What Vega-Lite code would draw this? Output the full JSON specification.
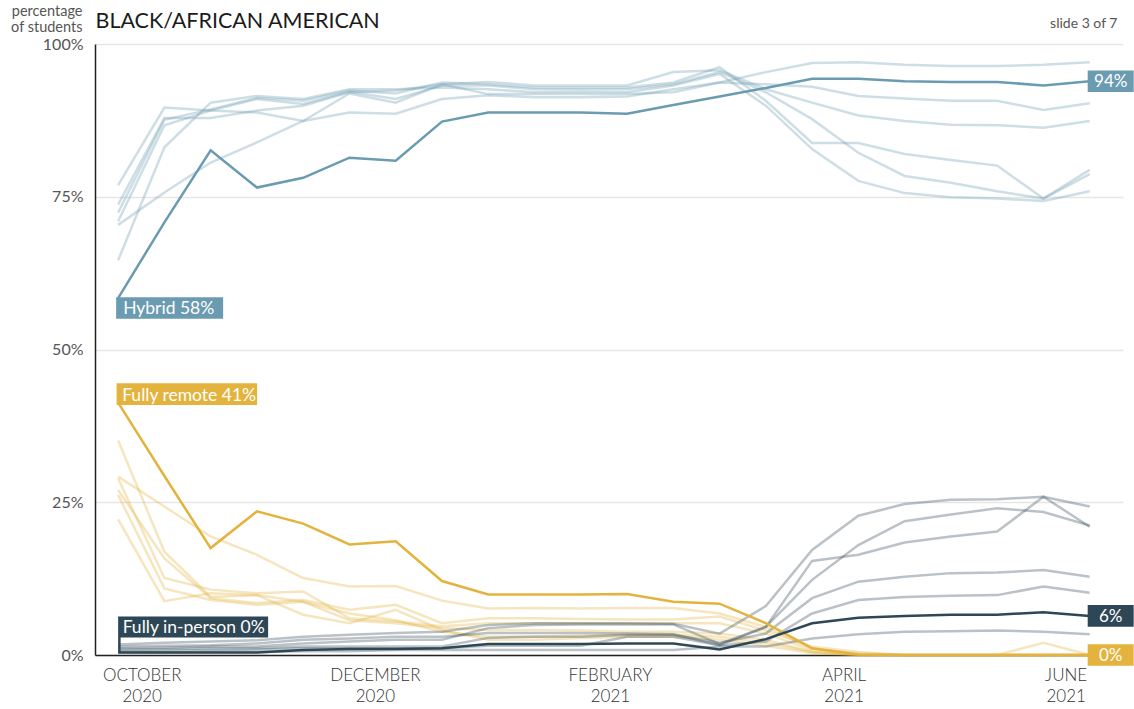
{
  "$schema": "https://vega.github.io/schema/vega-lite/v6.json",
  "width": 1028,
  "height": 611,
  "autosize": {"type": "none"},
  "padding": {"left": 95, "top": 44, "right": 11, "bottom": 54},
  "background": "white",
  "config": {"font": "Lato", "view": {"stroke": null}},
  "datasets": {
    "rates": [
      {"group":"Black/African American","mode":"Hybrid","wave":0,"pct":0.584},{"group":"Black/African American","mode":"Hybrid","wave":1,"pct":0.708},{"group":"Black/African American","mode":"Hybrid","wave":2,"pct":0.826},{"group":"Black/African American","mode":"Hybrid","wave":3,"pct":0.765},{"group":"Black/African American","mode":"Hybrid","wave":4,"pct":0.781},{"group":"Black/African American","mode":"Hybrid","wave":5,"pct":0.814},{"group":"Black/African American","mode":"Hybrid","wave":6,"pct":0.809},{"group":"Black/African American","mode":"Hybrid","wave":7,"pct":0.873},{"group":"Black/African American","mode":"Hybrid","wave":8,"pct":0.888},{"group":"Black/African American","mode":"Hybrid","wave":9,"pct":0.888},{"group":"Black/African American","mode":"Hybrid","wave":10,"pct":0.888},{"group":"Black/African American","mode":"Hybrid","wave":11,"pct":0.886},{"group":"Black/African American","mode":"Hybrid","wave":12,"pct":0.900},{"group":"Black/African American","mode":"Hybrid","wave":13,"pct":0.914},{"group":"Black/African American","mode":"Hybrid","wave":14,"pct":0.928},{"group":"Black/African American","mode":"Hybrid","wave":15,"pct":0.943},{"group":"Black/African American","mode":"Hybrid","wave":16,"pct":0.943},{"group":"Black/African American","mode":"Hybrid","wave":17,"pct":0.939},{"group":"Black/African American","mode":"Hybrid","wave":18,"pct":0.938},{"group":"Black/African American","mode":"Hybrid","wave":19,"pct":0.938},{"group":"Black/African American","mode":"Hybrid","wave":20,"pct":0.932},{"group":"Black/African American","mode":"Hybrid","wave":21,"pct":0.939},
      {"group":"Black/African American","mode":"Fully remote","wave":0,"pct":0.413},{"group":"Black/African American","mode":"Fully remote","wave":1,"pct":0.293},{"group":"Black/African American","mode":"Fully remote","wave":2,"pct":0.175},{"group":"Black/African American","mode":"Fully remote","wave":3,"pct":0.235},{"group":"Black/African American","mode":"Fully remote","wave":4,"pct":0.215},{"group":"Black/African American","mode":"Fully remote","wave":5,"pct":0.181},{"group":"Black/African American","mode":"Fully remote","wave":6,"pct":0.186},{"group":"Black/African American","mode":"Fully remote","wave":7,"pct":0.121},{"group":"Black/African American","mode":"Fully remote","wave":8,"pct":0.099},{"group":"Black/African American","mode":"Fully remote","wave":9,"pct":0.099},{"group":"Black/African American","mode":"Fully remote","wave":10,"pct":0.099},{"group":"Black/African American","mode":"Fully remote","wave":11,"pct":0.100},{"group":"Black/African American","mode":"Fully remote","wave":12,"pct":0.087},{"group":"Black/African American","mode":"Fully remote","wave":13,"pct":0.084},{"group":"Black/African American","mode":"Fully remote","wave":14,"pct":0.052},{"group":"Black/African American","mode":"Fully remote","wave":15,"pct":0.011},{"group":"Black/African American","mode":"Fully remote","wave":16,"pct":0.001},{"group":"Black/African American","mode":"Fully remote","wave":17,"pct":0},{"group":"Black/African American","mode":"Fully remote","wave":18,"pct":0},{"group":"Black/African American","mode":"Fully remote","wave":19,"pct":0},{"group":"Black/African American","mode":"Fully remote","wave":20,"pct":0},{"group":"Black/African American","mode":"Fully remote","wave":21,"pct":0},
      {"group":"Black/African American","mode":"Fully in-person","wave":0,"pct":0.004},{"group":"Black/African American","mode":"Fully in-person","wave":1,"pct":0.004},{"group":"Black/African American","mode":"Fully in-person","wave":2,"pct":0.004},{"group":"Black/African American","mode":"Fully in-person","wave":3,"pct":0.004},{"group":"Black/African American","mode":"Fully in-person","wave":4,"pct":0.008},{"group":"Black/African American","mode":"Fully in-person","wave":5,"pct":0.010},{"group":"Black/African American","mode":"Fully in-person","wave":6,"pct":0.010},{"group":"Black/African American","mode":"Fully in-person","wave":7,"pct":0.011},{"group":"Black/African American","mode":"Fully in-person","wave":8,"pct":0.018},{"group":"Black/African American","mode":"Fully in-person","wave":9,"pct":0.018},{"group":"Black/African American","mode":"Fully in-person","wave":10,"pct":0.018},{"group":"Black/African American","mode":"Fully in-person","wave":11,"pct":0.019},{"group":"Black/African American","mode":"Fully in-person","wave":12,"pct":0.019},{"group":"Black/African American","mode":"Fully in-person","wave":13,"pct":0.009},{"group":"Black/African American","mode":"Fully in-person","wave":14,"pct":0.026},{"group":"Black/African American","mode":"Fully in-person","wave":15,"pct":0.052},{"group":"Black/African American","mode":"Fully in-person","wave":16,"pct":0.061},{"group":"Black/African American","mode":"Fully in-person","wave":17,"pct":0.064},{"group":"Black/African American","mode":"Fully in-person","wave":18,"pct":0.066},{"group":"Black/African American","mode":"Fully in-person","wave":19,"pct":0.066},{"group":"Black/African American","mode":"Fully in-person","wave":20,"pct":0.070},{"group":"Black/African American","mode":"Fully in-person","wave":21,"pct":0.064},

      {"group":"Other 1","mode":"Hybrid","wave":0,"pct":0.769},{"group":"Other 1","mode":"Hybrid","wave":1,"pct":0.896},{"group":"Other 1","mode":"Hybrid","wave":2,"pct":0.891},{"group":"Other 1","mode":"Hybrid","wave":3,"pct":0.888},{"group":"Other 1","mode":"Hybrid","wave":4,"pct":0.874},{"group":"Other 1","mode":"Hybrid","wave":5,"pct":0.888},{"group":"Other 1","mode":"Hybrid","wave":6,"pct":0.886},{"group":"Other 1","mode":"Hybrid","wave":7,"pct":0.910},{"group":"Other 1","mode":"Hybrid","wave":8,"pct":0.916},{"group":"Other 1","mode":"Hybrid","wave":9,"pct":0.913},{"group":"Other 1","mode":"Hybrid","wave":10,"pct":0.913},{"group":"Other 1","mode":"Hybrid","wave":11,"pct":0.914},{"group":"Other 1","mode":"Hybrid","wave":12,"pct":0.926},{"group":"Other 1","mode":"Hybrid","wave":13,"pct":0.937},{"group":"Other 1","mode":"Hybrid","wave":14,"pct":0.934},{"group":"Other 1","mode":"Hybrid","wave":15,"pct":0.930},{"group":"Other 1","mode":"Hybrid","wave":16,"pct":0.915},{"group":"Other 1","mode":"Hybrid","wave":17,"pct":0.911},{"group":"Other 1","mode":"Hybrid","wave":18,"pct":0.907},{"group":"Other 1","mode":"Hybrid","wave":19,"pct":0.907},{"group":"Other 1","mode":"Hybrid","wave":20,"pct":0.892},{"group":"Other 1","mode":"Hybrid","wave":21,"pct":0.903},
      {"group":"Other 2","mode":"Hybrid","wave":0,"pct":0.737},{"group":"Other 2","mode":"Hybrid","wave":1,"pct":0.879},{"group":"Other 2","mode":"Hybrid","wave":2,"pct":0.879},{"group":"Other 2","mode":"Hybrid","wave":3,"pct":0.891},{"group":"Other 2","mode":"Hybrid","wave":4,"pct":0.899},{"group":"Other 2","mode":"Hybrid","wave":5,"pct":0.921},{"group":"Other 2","mode":"Hybrid","wave":6,"pct":0.924},{"group":"Other 2","mode":"Hybrid","wave":7,"pct":0.934},{"group":"Other 2","mode":"Hybrid","wave":8,"pct":0.938},{"group":"Other 2","mode":"Hybrid","wave":9,"pct":0.932},{"group":"Other 2","mode":"Hybrid","wave":10,"pct":0.932},{"group":"Other 2","mode":"Hybrid","wave":11,"pct":0.932},{"group":"Other 2","mode":"Hybrid","wave":12,"pct":0.954},{"group":"Other 2","mode":"Hybrid","wave":13,"pct":0.957},{"group":"Other 2","mode":"Hybrid","wave":14,"pct":0.926},{"group":"Other 2","mode":"Hybrid","wave":15,"pct":0.904},{"group":"Other 2","mode":"Hybrid","wave":16,"pct":0.883},{"group":"Other 2","mode":"Hybrid","wave":17,"pct":0.874},{"group":"Other 2","mode":"Hybrid","wave":18,"pct":0.868},{"group":"Other 2","mode":"Hybrid","wave":19,"pct":0.867},{"group":"Other 2","mode":"Hybrid","wave":20,"pct":0.863},{"group":"Other 2","mode":"Hybrid","wave":21,"pct":0.874},
      {"group":"Other 3","mode":"Hybrid","wave":0,"pct":0.724},{"group":"Other 3","mode":"Hybrid","wave":1,"pct":0.876},{"group":"Other 3","mode":"Hybrid","wave":2,"pct":0.893},{"group":"Other 3","mode":"Hybrid","wave":3,"pct":0.912},{"group":"Other 3","mode":"Hybrid","wave":4,"pct":0.907},{"group":"Other 3","mode":"Hybrid","wave":5,"pct":0.924},{"group":"Other 3","mode":"Hybrid","wave":6,"pct":0.919},{"group":"Other 3","mode":"Hybrid","wave":7,"pct":0.937},{"group":"Other 3","mode":"Hybrid","wave":8,"pct":0.934},{"group":"Other 3","mode":"Hybrid","wave":9,"pct":0.929},{"group":"Other 3","mode":"Hybrid","wave":10,"pct":0.929},{"group":"Other 3","mode":"Hybrid","wave":11,"pct":0.929},{"group":"Other 3","mode":"Hybrid","wave":12,"pct":0.937},{"group":"Other 3","mode":"Hybrid","wave":13,"pct":0.962},{"group":"Other 3","mode":"Hybrid","wave":14,"pct":0.907},{"group":"Other 3","mode":"Hybrid","wave":15,"pct":0.838},{"group":"Other 3","mode":"Hybrid","wave":16,"pct":0.838},{"group":"Other 3","mode":"Hybrid","wave":17,"pct":0.820},{"group":"Other 3","mode":"Hybrid","wave":18,"pct":0.810},{"group":"Other 3","mode":"Hybrid","wave":19,"pct":0.801},{"group":"Other 3","mode":"Hybrid","wave":20,"pct":0.747},{"group":"Other 3","mode":"Hybrid","wave":21,"pct":0.794},
      {"group":"Other 4","mode":"Hybrid","wave":0,"pct":0.710},{"group":"Other 4","mode":"Hybrid","wave":1,"pct":0.867},{"group":"Other 4","mode":"Hybrid","wave":2,"pct":0.891},{"group":"Other 4","mode":"Hybrid","wave":3,"pct":0.910},{"group":"Other 4","mode":"Hybrid","wave":4,"pct":0.902},{"group":"Other 4","mode":"Hybrid","wave":5,"pct":0.922},{"group":"Other 4","mode":"Hybrid","wave":6,"pct":0.910},{"group":"Other 4","mode":"Hybrid","wave":7,"pct":0.932},{"group":"Other 4","mode":"Hybrid","wave":8,"pct":0.932},{"group":"Other 4","mode":"Hybrid","wave":9,"pct":0.926},{"group":"Other 4","mode":"Hybrid","wave":10,"pct":0.926},{"group":"Other 4","mode":"Hybrid","wave":11,"pct":0.926},{"group":"Other 4","mode":"Hybrid","wave":12,"pct":0.934},{"group":"Other 4","mode":"Hybrid","wave":13,"pct":0.954},{"group":"Other 4","mode":"Hybrid","wave":14,"pct":0.921},{"group":"Other 4","mode":"Hybrid","wave":15,"pct":0.877},{"group":"Other 4","mode":"Hybrid","wave":16,"pct":0.822},{"group":"Other 4","mode":"Hybrid","wave":17,"pct":0.784},{"group":"Other 4","mode":"Hybrid","wave":18,"pct":0.773},{"group":"Other 4","mode":"Hybrid","wave":19,"pct":0.759},{"group":"Other 4","mode":"Hybrid","wave":20,"pct":0.747},{"group":"Other 4","mode":"Hybrid","wave":21,"pct":0.787},
      {"group":"Other 5","mode":"Hybrid","wave":0,"pct":0.704},{"group":"Other 5","mode":"Hybrid","wave":1,"pct":0.757},{"group":"Other 5","mode":"Hybrid","wave":2,"pct":0.806},{"group":"Other 5","mode":"Hybrid","wave":3,"pct":0.839},{"group":"Other 5","mode":"Hybrid","wave":4,"pct":0.874},{"group":"Other 5","mode":"Hybrid","wave":5,"pct":0.919},{"group":"Other 5","mode":"Hybrid","wave":6,"pct":0.904},{"group":"Other 5","mode":"Hybrid","wave":7,"pct":0.934},{"group":"Other 5","mode":"Hybrid","wave":8,"pct":0.918},{"group":"Other 5","mode":"Hybrid","wave":9,"pct":0.918},{"group":"Other 5","mode":"Hybrid","wave":10,"pct":0.918},{"group":"Other 5","mode":"Hybrid","wave":11,"pct":0.918},{"group":"Other 5","mode":"Hybrid","wave":12,"pct":0.921},{"group":"Other 5","mode":"Hybrid","wave":13,"pct":0.937},{"group":"Other 5","mode":"Hybrid","wave":14,"pct":0.954},{"group":"Other 5","mode":"Hybrid","wave":15,"pct":0.969},{"group":"Other 5","mode":"Hybrid","wave":16,"pct":0.970},{"group":"Other 5","mode":"Hybrid","wave":17,"pct":0.966},{"group":"Other 5","mode":"Hybrid","wave":18,"pct":0.964},{"group":"Other 5","mode":"Hybrid","wave":19,"pct":0.964},{"group":"Other 5","mode":"Hybrid","wave":20,"pct":0.966},{"group":"Other 5","mode":"Hybrid","wave":21,"pct":0.970},
      {"group":"Other 6","mode":"Hybrid","wave":0,"pct":0.646},{"group":"Other 6","mode":"Hybrid","wave":1,"pct":0.831},{"group":"Other 6","mode":"Hybrid","wave":2,"pct":0.904},{"group":"Other 6","mode":"Hybrid","wave":3,"pct":0.915},{"group":"Other 6","mode":"Hybrid","wave":4,"pct":0.910},{"group":"Other 6","mode":"Hybrid","wave":5,"pct":0.926},{"group":"Other 6","mode":"Hybrid","wave":6,"pct":0.926},{"group":"Other 6","mode":"Hybrid","wave":7,"pct":0.929},{"group":"Other 6","mode":"Hybrid","wave":8,"pct":0.926},{"group":"Other 6","mode":"Hybrid","wave":9,"pct":0.921},{"group":"Other 6","mode":"Hybrid","wave":10,"pct":0.922},{"group":"Other 6","mode":"Hybrid","wave":11,"pct":0.921},{"group":"Other 6","mode":"Hybrid","wave":12,"pct":0.932},{"group":"Other 6","mode":"Hybrid","wave":13,"pct":0.951},{"group":"Other 6","mode":"Hybrid","wave":14,"pct":0.899},{"group":"Other 6","mode":"Hybrid","wave":15,"pct":0.828},{"group":"Other 6","mode":"Hybrid","wave":16,"pct":0.776},{"group":"Other 6","mode":"Hybrid","wave":17,"pct":0.756},{"group":"Other 6","mode":"Hybrid","wave":18,"pct":0.749},{"group":"Other 6","mode":"Hybrid","wave":19,"pct":0.747},{"group":"Other 6","mode":"Hybrid","wave":20,"pct":0.743},{"group":"Other 6","mode":"Hybrid","wave":21,"pct":0.759},

      {"group":"Other 1","mode":"Fully remote","wave":0,"pct":0.351},{"group":"Other 1","mode":"Fully remote","wave":1,"pct":0.169},{"group":"Other 1","mode":"Fully remote","wave":2,"pct":0.095},{"group":"Other 1","mode":"Fully remote","wave":3,"pct":0.098},{"group":"Other 1","mode":"Fully remote","wave":4,"pct":0.087},{"group":"Other 1","mode":"Fully remote","wave":5,"pct":0.068},{"group":"Other 1","mode":"Fully remote","wave":6,"pct":0.057},{"group":"Other 1","mode":"Fully remote","wave":7,"pct":0.038},{"group":"Other 1","mode":"Fully remote","wave":8,"pct":0.030},{"group":"Other 1","mode":"Fully remote","wave":9,"pct":0.030},{"group":"Other 1","mode":"Fully remote","wave":10,"pct":0.032},{"group":"Other 1","mode":"Fully remote","wave":11,"pct":0.033},{"group":"Other 1","mode":"Fully remote","wave":12,"pct":0.033},{"group":"Other 1","mode":"Fully remote","wave":13,"pct":0.030},{"group":"Other 1","mode":"Fully remote","wave":14,"pct":0.020},{"group":"Other 1","mode":"Fully remote","wave":15,"pct":0.005},{"group":"Other 1","mode":"Fully remote","wave":16,"pct":0},{"group":"Other 1","mode":"Fully remote","wave":17,"pct":0},{"group":"Other 1","mode":"Fully remote","wave":18,"pct":0},{"group":"Other 1","mode":"Fully remote","wave":19,"pct":0},{"group":"Other 1","mode":"Fully remote","wave":20,"pct":0},{"group":"Other 1","mode":"Fully remote","wave":21,"pct":0},
      {"group":"Other 2","mode":"Fully remote","wave":0,"pct":0.292},{"group":"Other 2","mode":"Fully remote","wave":1,"pct":0.243},{"group":"Other 2","mode":"Fully remote","wave":2,"pct":0.194},{"group":"Other 2","mode":"Fully remote","wave":3,"pct":0.164},{"group":"Other 2","mode":"Fully remote","wave":4,"pct":0.126},{"group":"Other 2","mode":"Fully remote","wave":5,"pct":0.112},{"group":"Other 2","mode":"Fully remote","wave":6,"pct":0.113},{"group":"Other 2","mode":"Fully remote","wave":7,"pct":0.089},{"group":"Other 2","mode":"Fully remote","wave":8,"pct":0.076},{"group":"Other 2","mode":"Fully remote","wave":9,"pct":0.077},{"group":"Other 2","mode":"Fully remote","wave":10,"pct":0.076},{"group":"Other 2","mode":"Fully remote","wave":11,"pct":0.077},{"group":"Other 2","mode":"Fully remote","wave":12,"pct":0.077},{"group":"Other 2","mode":"Fully remote","wave":13,"pct":0.068},{"group":"Other 2","mode":"Fully remote","wave":14,"pct":0.046},{"group":"Other 2","mode":"Fully remote","wave":15,"pct":0.010},{"group":"Other 2","mode":"Fully remote","wave":16,"pct":0.003},{"group":"Other 2","mode":"Fully remote","wave":17,"pct":0},{"group":"Other 2","mode":"Fully remote","wave":18,"pct":0},{"group":"Other 2","mode":"Fully remote","wave":19,"pct":0},{"group":"Other 2","mode":"Fully remote","wave":20,"pct":0},{"group":"Other 2","mode":"Fully remote","wave":21,"pct":0},
      {"group":"Other 3","mode":"Fully remote","wave":0,"pct":0.289},{"group":"Other 3","mode":"Fully remote","wave":1,"pct":0.126},{"group":"Other 3","mode":"Fully remote","wave":2,"pct":0.107},{"group":"Other 3","mode":"Fully remote","wave":3,"pct":0.101},{"group":"Other 3","mode":"Fully remote","wave":4,"pct":0.104},{"group":"Other 3","mode":"Fully remote","wave":5,"pct":0.060},{"group":"Other 3","mode":"Fully remote","wave":6,"pct":0.055},{"group":"Other 3","mode":"Fully remote","wave":7,"pct":0.047},{"group":"Other 3","mode":"Fully remote","wave":8,"pct":0.052},{"group":"Other 3","mode":"Fully remote","wave":9,"pct":0.052},{"group":"Other 3","mode":"Fully remote","wave":10,"pct":0.052},{"group":"Other 3","mode":"Fully remote","wave":11,"pct":0.052},{"group":"Other 3","mode":"Fully remote","wave":12,"pct":0.052},{"group":"Other 3","mode":"Fully remote","wave":13,"pct":0.052},{"group":"Other 3","mode":"Fully remote","wave":14,"pct":0.035},{"group":"Other 3","mode":"Fully remote","wave":15,"pct":0.008},{"group":"Other 3","mode":"Fully remote","wave":16,"pct":0},{"group":"Other 3","mode":"Fully remote","wave":17,"pct":0},{"group":"Other 3","mode":"Fully remote","wave":18,"pct":0},{"group":"Other 3","mode":"Fully remote","wave":19,"pct":0},{"group":"Other 3","mode":"Fully remote","wave":20,"pct":0},{"group":"Other 3","mode":"Fully remote","wave":21,"pct":0},
      {"group":"Other 4","mode":"Fully remote","wave":0,"pct":0.270},{"group":"Other 4","mode":"Fully remote","wave":1,"pct":0.158},{"group":"Other 4","mode":"Fully remote","wave":2,"pct":0.093},{"group":"Other 4","mode":"Fully remote","wave":3,"pct":0.085},{"group":"Other 4","mode":"Fully remote","wave":4,"pct":0.090},{"group":"Other 4","mode":"Fully remote","wave":5,"pct":0.074},{"group":"Other 4","mode":"Fully remote","wave":6,"pct":0.082},{"group":"Other 4","mode":"Fully remote","wave":7,"pct":0.052},{"group":"Other 4","mode":"Fully remote","wave":8,"pct":0.060},{"group":"Other 4","mode":"Fully remote","wave":9,"pct":0.060},{"group":"Other 4","mode":"Fully remote","wave":10,"pct":0.059},{"group":"Other 4","mode":"Fully remote","wave":11,"pct":0.058},{"group":"Other 4","mode":"Fully remote","wave":12,"pct":0.058},{"group":"Other 4","mode":"Fully remote","wave":13,"pct":0.063},{"group":"Other 4","mode":"Fully remote","wave":14,"pct":0.040},{"group":"Other 4","mode":"Fully remote","wave":15,"pct":0.014},{"group":"Other 4","mode":"Fully remote","wave":16,"pct":0.005},{"group":"Other 4","mode":"Fully remote","wave":17,"pct":0},{"group":"Other 4","mode":"Fully remote","wave":18,"pct":0},{"group":"Other 4","mode":"Fully remote","wave":19,"pct":0},{"group":"Other 4","mode":"Fully remote","wave":20,"pct":0},{"group":"Other 4","mode":"Fully remote","wave":21,"pct":0},
      {"group":"Other 5","mode":"Fully remote","wave":0,"pct":0.262},{"group":"Other 5","mode":"Fully remote","wave":1,"pct":0.109},{"group":"Other 5","mode":"Fully remote","wave":2,"pct":0.090},{"group":"Other 5","mode":"Fully remote","wave":3,"pct":0.082},{"group":"Other 5","mode":"Fully remote","wave":4,"pct":0.087},{"group":"Other 5","mode":"Fully remote","wave":5,"pct":0.057},{"group":"Other 5","mode":"Fully remote","wave":6,"pct":0.052},{"group":"Other 5","mode":"Fully remote","wave":7,"pct":0.044},{"group":"Other 5","mode":"Fully remote","wave":8,"pct":0.041},{"group":"Other 5","mode":"Fully remote","wave":9,"pct":0.041},{"group":"Other 5","mode":"Fully remote","wave":10,"pct":0.040},{"group":"Other 5","mode":"Fully remote","wave":11,"pct":0.038},{"group":"Other 5","mode":"Fully remote","wave":12,"pct":0.038},{"group":"Other 5","mode":"Fully remote","wave":13,"pct":0.035},{"group":"Other 5","mode":"Fully remote","wave":14,"pct":0.025},{"group":"Other 5","mode":"Fully remote","wave":15,"pct":0.005},{"group":"Other 5","mode":"Fully remote","wave":16,"pct":0},{"group":"Other 5","mode":"Fully remote","wave":17,"pct":0},{"group":"Other 5","mode":"Fully remote","wave":18,"pct":0},{"group":"Other 5","mode":"Fully remote","wave":19,"pct":0},{"group":"Other 5","mode":"Fully remote","wave":20,"pct":0},{"group":"Other 5","mode":"Fully remote","wave":21,"pct":0},
      {"group":"Other 6","mode":"Fully remote","wave":0,"pct":0.222},{"group":"Other 6","mode":"Fully remote","wave":1,"pct":0.088},{"group":"Other 6","mode":"Fully remote","wave":2,"pct":0.101},{"group":"Other 6","mode":"Fully remote","wave":3,"pct":0.098},{"group":"Other 6","mode":"Fully remote","wave":4,"pct":0.066},{"group":"Other 6","mode":"Fully remote","wave":5,"pct":0.052},{"group":"Other 6","mode":"Fully remote","wave":6,"pct":0.074},{"group":"Other 6","mode":"Fully remote","wave":7,"pct":0.041},{"group":"Other 6","mode":"Fully remote","wave":8,"pct":0.025},{"group":"Other 6","mode":"Fully remote","wave":9,"pct":0.025},{"group":"Other 6","mode":"Fully remote","wave":10,"pct":0.028},{"group":"Other 6","mode":"Fully remote","wave":11,"pct":0.030},{"group":"Other 6","mode":"Fully remote","wave":12,"pct":0.030},{"group":"Other 6","mode":"Fully remote","wave":13,"pct":0.025},{"group":"Other 6","mode":"Fully remote","wave":14,"pct":0.015},{"group":"Other 6","mode":"Fully remote","wave":15,"pct":0.003},{"group":"Other 6","mode":"Fully remote","wave":16,"pct":0},{"group":"Other 6","mode":"Fully remote","wave":17,"pct":0},{"group":"Other 6","mode":"Fully remote","wave":18,"pct":0},{"group":"Other 6","mode":"Fully remote","wave":19,"pct":0},{"group":"Other 6","mode":"Fully remote","wave":20,"pct":0.020},{"group":"Other 6","mode":"Fully remote","wave":21,"pct":0},

      {"group":"Other 1","mode":"Fully in-person","wave":0,"pct":0.017},{"group":"Other 1","mode":"Fully in-person","wave":1,"pct":0.020},{"group":"Other 1","mode":"Fully in-person","wave":2,"pct":0.022},{"group":"Other 1","mode":"Fully in-person","wave":3,"pct":0.024},{"group":"Other 1","mode":"Fully in-person","wave":4,"pct":0.030},{"group":"Other 1","mode":"Fully in-person","wave":5,"pct":0.033},{"group":"Other 1","mode":"Fully in-person","wave":6,"pct":0.036},{"group":"Other 1","mode":"Fully in-person","wave":7,"pct":0.038},{"group":"Other 1","mode":"Fully in-person","wave":8,"pct":0.049},{"group":"Other 1","mode":"Fully in-person","wave":9,"pct":0.052},{"group":"Other 1","mode":"Fully in-person","wave":10,"pct":0.052},{"group":"Other 1","mode":"Fully in-person","wave":11,"pct":0.052},{"group":"Other 1","mode":"Fully in-person","wave":12,"pct":0.051},{"group":"Other 1","mode":"Fully in-person","wave":13,"pct":0.035},{"group":"Other 1","mode":"Fully in-person","wave":14,"pct":0.080},{"group":"Other 1","mode":"Fully in-person","wave":15,"pct":0.172},{"group":"Other 1","mode":"Fully in-person","wave":16,"pct":0.228},{"group":"Other 1","mode":"Fully in-person","wave":17,"pct":0.247},{"group":"Other 1","mode":"Fully in-person","wave":18,"pct":0.254},{"group":"Other 1","mode":"Fully in-person","wave":19,"pct":0.255},{"group":"Other 1","mode":"Fully in-person","wave":20,"pct":0.259},{"group":"Other 1","mode":"Fully in-person","wave":21,"pct":0.243},
      {"group":"Other 2","mode":"Fully in-person","wave":0,"pct":0.014},{"group":"Other 2","mode":"Fully in-person","wave":1,"pct":0.015},{"group":"Other 2","mode":"Fully in-person","wave":2,"pct":0.016},{"group":"Other 2","mode":"Fully in-person","wave":3,"pct":0.019},{"group":"Other 2","mode":"Fully in-person","wave":4,"pct":0.025},{"group":"Other 2","mode":"Fully in-person","wave":5,"pct":0.027},{"group":"Other 2","mode":"Fully in-person","wave":6,"pct":0.030},{"group":"Other 2","mode":"Fully in-person","wave":7,"pct":0.030},{"group":"Other 2","mode":"Fully in-person","wave":8,"pct":0.036},{"group":"Other 2","mode":"Fully in-person","wave":9,"pct":0.036},{"group":"Other 2","mode":"Fully in-person","wave":10,"pct":0.036},{"group":"Other 2","mode":"Fully in-person","wave":11,"pct":0.035},{"group":"Other 2","mode":"Fully in-person","wave":12,"pct":0.034},{"group":"Other 2","mode":"Fully in-person","wave":13,"pct":0.016},{"group":"Other 2","mode":"Fully in-person","wave":14,"pct":0.046},{"group":"Other 2","mode":"Fully in-person","wave":15,"pct":0.154},{"group":"Other 2","mode":"Fully in-person","wave":16,"pct":0.164},{"group":"Other 2","mode":"Fully in-person","wave":17,"pct":0.184},{"group":"Other 2","mode":"Fully in-person","wave":18,"pct":0.194},{"group":"Other 2","mode":"Fully in-person","wave":19,"pct":0.202},{"group":"Other 2","mode":"Fully in-person","wave":20,"pct":0.259},{"group":"Other 2","mode":"Fully in-person","wave":21,"pct":0.210},
      {"group":"Other 3","mode":"Fully in-person","wave":0,"pct":0.011},{"group":"Other 3","mode":"Fully in-person","wave":1,"pct":0.012},{"group":"Other 3","mode":"Fully in-person","wave":2,"pct":0.014},{"group":"Other 3","mode":"Fully in-person","wave":3,"pct":0.014},{"group":"Other 3","mode":"Fully in-person","wave":4,"pct":0.019},{"group":"Other 3","mode":"Fully in-person","wave":5,"pct":0.022},{"group":"Other 3","mode":"Fully in-person","wave":6,"pct":0.025},{"group":"Other 3","mode":"Fully in-person","wave":7,"pct":0.025},{"group":"Other 3","mode":"Fully in-person","wave":8,"pct":0.044},{"group":"Other 3","mode":"Fully in-person","wave":9,"pct":0.049},{"group":"Other 3","mode":"Fully in-person","wave":10,"pct":0.050},{"group":"Other 3","mode":"Fully in-person","wave":11,"pct":0.050},{"group":"Other 3","mode":"Fully in-person","wave":12,"pct":0.050},{"group":"Other 3","mode":"Fully in-person","wave":13,"pct":0.018},{"group":"Other 3","mode":"Fully in-person","wave":14,"pct":0.046},{"group":"Other 3","mode":"Fully in-person","wave":15,"pct":0.123},{"group":"Other 3","mode":"Fully in-person","wave":16,"pct":0.180},{"group":"Other 3","mode":"Fully in-person","wave":17,"pct":0.219},{"group":"Other 3","mode":"Fully in-person","wave":18,"pct":0.230},{"group":"Other 3","mode":"Fully in-person","wave":19,"pct":0.240},{"group":"Other 3","mode":"Fully in-person","wave":20,"pct":0.234},{"group":"Other 3","mode":"Fully in-person","wave":21,"pct":0.212},
      {"group":"Other 4","mode":"Fully in-person","wave":0,"pct":0.009},{"group":"Other 4","mode":"Fully in-person","wave":1,"pct":0.010},{"group":"Other 4","mode":"Fully in-person","wave":2,"pct":0.011},{"group":"Other 4","mode":"Fully in-person","wave":3,"pct":0.011},{"group":"Other 4","mode":"Fully in-person","wave":4,"pct":0.014},{"group":"Other 4","mode":"Fully in-person","wave":5,"pct":0.014},{"group":"Other 4","mode":"Fully in-person","wave":6,"pct":0.014},{"group":"Other 4","mode":"Fully in-person","wave":7,"pct":0.014},{"group":"Other 4","mode":"Fully in-person","wave":8,"pct":0.028},{"group":"Other 4","mode":"Fully in-person","wave":9,"pct":0.030},{"group":"Other 4","mode":"Fully in-person","wave":10,"pct":0.030},{"group":"Other 4","mode":"Fully in-person","wave":11,"pct":0.033},{"group":"Other 4","mode":"Fully in-person","wave":12,"pct":0.033},{"group":"Other 4","mode":"Fully in-person","wave":13,"pct":0.020},{"group":"Other 4","mode":"Fully in-person","wave":14,"pct":0.035},{"group":"Other 4","mode":"Fully in-person","wave":15,"pct":0.093},{"group":"Other 4","mode":"Fully in-person","wave":16,"pct":0.120},{"group":"Other 4","mode":"Fully in-person","wave":17,"pct":0.128},{"group":"Other 4","mode":"Fully in-person","wave":18,"pct":0.134},{"group":"Other 4","mode":"Fully in-person","wave":19,"pct":0.135},{"group":"Other 4","mode":"Fully in-person","wave":20,"pct":0.139},{"group":"Other 4","mode":"Fully in-person","wave":21,"pct":0.128},
      {"group":"Other 5","mode":"Fully in-person","wave":0,"pct":0.006},{"group":"Other 5","mode":"Fully in-person","wave":1,"pct":0.007},{"group":"Other 5","mode":"Fully in-person","wave":2,"pct":0.008},{"group":"Other 5","mode":"Fully in-person","wave":3,"pct":0.009},{"group":"Other 5","mode":"Fully in-person","wave":4,"pct":0.011},{"group":"Other 5","mode":"Fully in-person","wave":5,"pct":0.011},{"group":"Other 5","mode":"Fully in-person","wave":6,"pct":0.011},{"group":"Other 5","mode":"Fully in-person","wave":7,"pct":0.011},{"group":"Other 5","mode":"Fully in-person","wave":8,"pct":0.015},{"group":"Other 5","mode":"Fully in-person","wave":9,"pct":0.015},{"group":"Other 5","mode":"Fully in-person","wave":10,"pct":0.015},{"group":"Other 5","mode":"Fully in-person","wave":11,"pct":0.030},{"group":"Other 5","mode":"Fully in-person","wave":12,"pct":0.030},{"group":"Other 5","mode":"Fully in-person","wave":13,"pct":0.016},{"group":"Other 5","mode":"Fully in-person","wave":14,"pct":0.022},{"group":"Other 5","mode":"Fully in-person","wave":15,"pct":0.068},{"group":"Other 5","mode":"Fully in-person","wave":16,"pct":0.090},{"group":"Other 5","mode":"Fully in-person","wave":17,"pct":0.095},{"group":"Other 5","mode":"Fully in-person","wave":18,"pct":0.097},{"group":"Other 5","mode":"Fully in-person","wave":19,"pct":0.098},{"group":"Other 5","mode":"Fully in-person","wave":20,"pct":0.112},{"group":"Other 5","mode":"Fully in-person","wave":21,"pct":0.102},
      {"group":"Other 6","mode":"Fully in-person","wave":0,"pct":0.004},{"group":"Other 6","mode":"Fully in-person","wave":1,"pct":0.004},{"group":"Other 6","mode":"Fully in-person","wave":2,"pct":0.005},{"group":"Other 6","mode":"Fully in-person","wave":3,"pct":0.005},{"group":"Other 6","mode":"Fully in-person","wave":4,"pct":0.006},{"group":"Other 6","mode":"Fully in-person","wave":5,"pct":0.006},{"group":"Other 6","mode":"Fully in-person","wave":6,"pct":0.008},{"group":"Other 6","mode":"Fully in-person","wave":7,"pct":0.008},{"group":"Other 6","mode":"Fully in-person","wave":8,"pct":0.008},{"group":"Other 6","mode":"Fully in-person","wave":9,"pct":0.008},{"group":"Other 6","mode":"Fully in-person","wave":10,"pct":0.008},{"group":"Other 6","mode":"Fully in-person","wave":11,"pct":0.008},{"group":"Other 6","mode":"Fully in-person","wave":12,"pct":0.008},{"group":"Other 6","mode":"Fully in-person","wave":13,"pct":0.014},{"group":"Other 6","mode":"Fully in-person","wave":14,"pct":0.014},{"group":"Other 6","mode":"Fully in-person","wave":15,"pct":0.027},{"group":"Other 6","mode":"Fully in-person","wave":16,"pct":0.034},{"group":"Other 6","mode":"Fully in-person","wave":17,"pct":0.038},{"group":"Other 6","mode":"Fully in-person","wave":18,"pct":0.039},{"group":"Other 6","mode":"Fully in-person","wave":19,"pct":0.040},{"group":"Other 6","mode":"Fully in-person","wave":20,"pct":0.038},{"group":"Other 6","mode":"Fully in-person","wave":21,"pct":0.034}
    ]
  },
  "data": {"name": "rates"},
  "resolve": {"axis": {"x": "independent", "y": "independent"}},
  "layer": [
    {
      "transform": [{"filter": "datum.group != 'Black/African American'"}],
      "mark": {"type": "line", "strokeWidth": 2.5, "opacity": 0.33},
      "encoding": {
        "x": {"field": "wave", "type": "quantitative",
              "scale": {"domain": [-0.5, 21.72], "nice": false, "zero": false},
              "axis": {"orient": "bottom", "title": null, "values": [0.51, 5.55, 10.63, 15.68, 20.48],
                       "labelExpr": "datum.value < 3 ? ['OCTOBER', '2020'] : datum.value < 8 ? ['DECEMBER', '2020'] : datum.value < 13 ? ['FEBRUARY', '2021'] : datum.value < 18 ? ['APRIL', '2021'] : ['JUNE', '2021']",
                       "grid": false, "ticks": false, "domain": true, "domainColor": "#222222", "domainWidth": 1.5,
                       "labelFontSize": 17, "labelColor": "#333333", "labelFontWeight": 300, "labelPadding": 12,
                       "labelBaseline": "top", "labelLineHeight": 21, "labelAlign": "center",
                       "labelFlush": false, "labelOverlap": false, "labelBound": false}},
        "y": {"field": "pct", "type": "quantitative",
              "scale": {"domain": [0, 1], "nice": false, "zero": true},
              "axis": {"orient": "left", "values": [0, 0.25, 0.5, 0.75, 1], "format": ".0%",
                       "grid": true, "gridColor": "#e6e6e6", "gridWidth": 1.5,
                       "ticks": false, "domain": true, "domainColor": "#222222", "domainWidth": 1.5,
                       "labelFontSize": 16, "labelColor": "#555555", "labelPadding": 12,
                       "title": ["percentage", "of students"], "titleAngle": 0, "titleAlign": "right",
                       "titleBaseline": "alphabetic", "titleX": -13, "titleY": -28.5, "titleFontSize": 14.5,
                       "titleFontWeight": "normal", "titleColor": "#555555", "titleLineHeight": 15.5}},
        "color": {"field": "mode", "type": "nominal",
                  "scale": {"domain": ["Hybrid", "Fully remote", "Fully in-person"], "range": ["#6a9bb0", "#e3b33d", "#2e4756"]},
                  "legend": null},
        "detail": {"field": "group"}
      }
    },
    {
      "transform": [{"filter": "datum.group == 'Black/African American'"}],
      "mark": {"type": "line", "strokeWidth": 2.5},
      "encoding": {
        "x": {"field": "wave", "type": "quantitative",
              "axis": {"orient": "top", "title": "BLACK/AFRICAN AMERICAN", "labels": false, "ticks": false, "domain": false, "grid": false,
                       "titleX": 0, "titleY": -16.5, "titleAlign": "left", "titleAnchor": "start", "titleBaseline": "alphabetic",
                       "titleFontSize": 21.5, "titleFontWeight": "normal", "titleColor": "#1b1b1b"}},
        "y": {"field": "pct", "type": "quantitative",
              "axis": {"orient": "right", "title": "slide 3 of 7", "labels": false, "ticks": false, "domain": false, "grid": false,
                       "titleAngle": 0, "titleX": -6, "titleY": -16.5, "titleAlign": "right", "titleBaseline": "alphabetic",
                       "titleFontSize": 14, "titleFontWeight": "normal", "titleColor": "#555555"}},
        "color": {"field": "mode", "type": "nominal", "legend": null}
      }
    },
    {
      "transform": [{"filter": "datum.group == 'Black/African American' && datum.wave == 0"}],
      "mark": {"type": "point", "filled": true, "size": 4, "opacity": 1},
      "encoding": {
        "x": {"field": "wave", "type": "quantitative", "axis": null},
        "y": {"field": "pct", "type": "quantitative", "axis": null},
        "color": {"field": "mode", "type": "nominal", "legend": null},
        "shape": {"field": "mode", "type": "nominal", "legend": null,
                  "scale": {"domain": ["Hybrid", "Fully remote", "Fully in-person"],
                            "range": ["M-2,-1H105V20.5H-2Z", "M-1.5,-19.5H139V2.3H-1.5Z", "M0,-36H150V-15H0Z M0,-15H2.5V0H0Z"]}}
      }
    },
    {
      "transform": [{"filter": "datum.group == 'Black/African American' && datum.wave == 0 && datum.mode == 'Hybrid'"},
                    {"calculate": "datum.mode + ' ' + format(datum.pct, '.0%')", "as": "label"}],
      "mark": {"type": "text", "align": "left", "baseline": "alphabetic", "dx": 5, "dy": 16, "fontSize": 17.5, "color": "white"},
      "encoding": {
        "x": {"field": "wave", "type": "quantitative", "axis": null},
        "y": {"field": "pct", "type": "quantitative", "axis": null},
        "text": {"field": "label"}
      }
    },
    {
      "transform": [{"filter": "datum.group == 'Black/African American' && datum.wave == 0 && datum.mode == 'Fully remote'"},
                    {"calculate": "datum.mode + ' ' + format(datum.pct, '.0%')", "as": "label"}],
      "mark": {"type": "text", "align": "left", "baseline": "alphabetic", "dx": 4, "dy": -2, "fontSize": 17.5, "color": "white"},
      "encoding": {
        "x": {"field": "wave", "type": "quantitative", "axis": null},
        "y": {"field": "pct", "type": "quantitative", "axis": null},
        "text": {"field": "label"}
      }
    },
    {
      "transform": [{"filter": "datum.group == 'Black/African American' && datum.wave == 0 && datum.mode == 'Fully in-person'"},
                    {"calculate": "datum.mode + ' ' + format(datum.pct, '.0%')", "as": "label"}],
      "mark": {"type": "text", "align": "left", "baseline": "alphabetic", "dx": 4.5, "dy": -19.5, "fontSize": 17.5, "color": "white"},
      "encoding": {
        "x": {"field": "wave", "type": "quantitative", "axis": null},
        "y": {"field": "pct", "type": "quantitative", "axis": null},
        "text": {"field": "label"}
      }
    },
    {
      "transform": [{"filter": "datum.group == 'Black/African American' && datum.wave == 21"}],
      "mark": {"type": "point", "filled": true, "size": 4, "opacity": 1, "shape": "M-2,-10.8H44V10.8H-2Z"},
      "encoding": {
        "x": {"field": "wave", "type": "quantitative", "axis": null},
        "y": {"field": "pct", "type": "quantitative", "axis": null},
        "color": {"field": "mode", "type": "nominal", "legend": null}
      }
    },
    {
      "transform": [{"filter": "datum.group == 'Black/African American' && datum.wave == 21"}],
      "mark": {"type": "text", "align": "center", "baseline": "alphabetic", "dx": 21, "dy": 6, "fontSize": 17, "color": "white"},
      "encoding": {
        "x": {"field": "wave", "type": "quantitative", "axis": null},
        "y": {"field": "pct", "type": "quantitative", "axis": null},
        "text": {"field": "pct", "type": "quantitative", "format": ".0%"}
      }
    }
  ]
}
